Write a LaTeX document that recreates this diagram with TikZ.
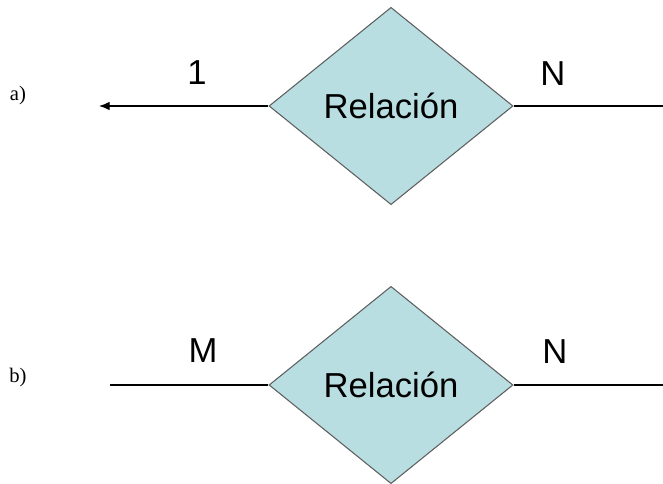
\documentclass[tikz,border=0pt]{standalone}
\usepackage{fontspec}
\setmainfont{Liberation Serif}
\newfontfamily\arialfont{Liberation Sans}
\usepackage{tikz}
\usetikzlibrary{shapes.geometric}
\usetikzlibrary{arrows.meta}

\definecolor{relfill}{RGB}{184,222,226}
\definecolor{relline}{RGB}{95,95,95}

\tikzset{
    relbox/.style={diamond,draw=relline,fill=relfill,line width=0.8pt,inner sep=0pt,
        minimum width=183pt,minimum height=148pt,font=\arialfont\fontsize{26}{30}\selectfont},
    cardlabel/.style={font=\arialfont\fontsize{26}{30}\selectfont,inner sep=0pt},
    partlabel/.style={font=\fontsize{15.5}{18}\selectfont,inner sep=0pt},
    link/.style={black,line width=1pt}
}

\begin{document}
\begin{tikzpicture}[x=0.75pt,y=-0.75pt]
        \useasboundingbox (0,0) rectangle (663,484);
        % a)
        \node[relbox] (rela) at (391,106) {Relaci\'on};
        \coordinate (tipa) at (99,106);
        \coordinate (enda) at (663,106);
        \draw[link,-{Latex[length=8pt,width=6.5pt]}] (rela.west) -- (tipa);
        \draw[link] (rela.east) -- (enda);
        \node[cardlabel] (onea) at (197,73) {1};
        \node[cardlabel] (na) at (553,74) {N};
        \node[partlabel] (parta) at (18,96) {a)};
        % b)
        \node[relbox] (relb) at (391,385) {Relaci\'on};
        \coordinate (startb) at (110,385);
        \coordinate (endb) at (663,385);
        \draw[link] (startb) -- (relb.west);
        \draw[link] (relb.east) -- (endb);
        \node[cardlabel] (mb) at (203,351) {M};
        \node[cardlabel] (nb) at (555,352) {N};
        \node[partlabel] (partb) at (18,378) {b)};
    \end{tikzpicture}
\end{document}
